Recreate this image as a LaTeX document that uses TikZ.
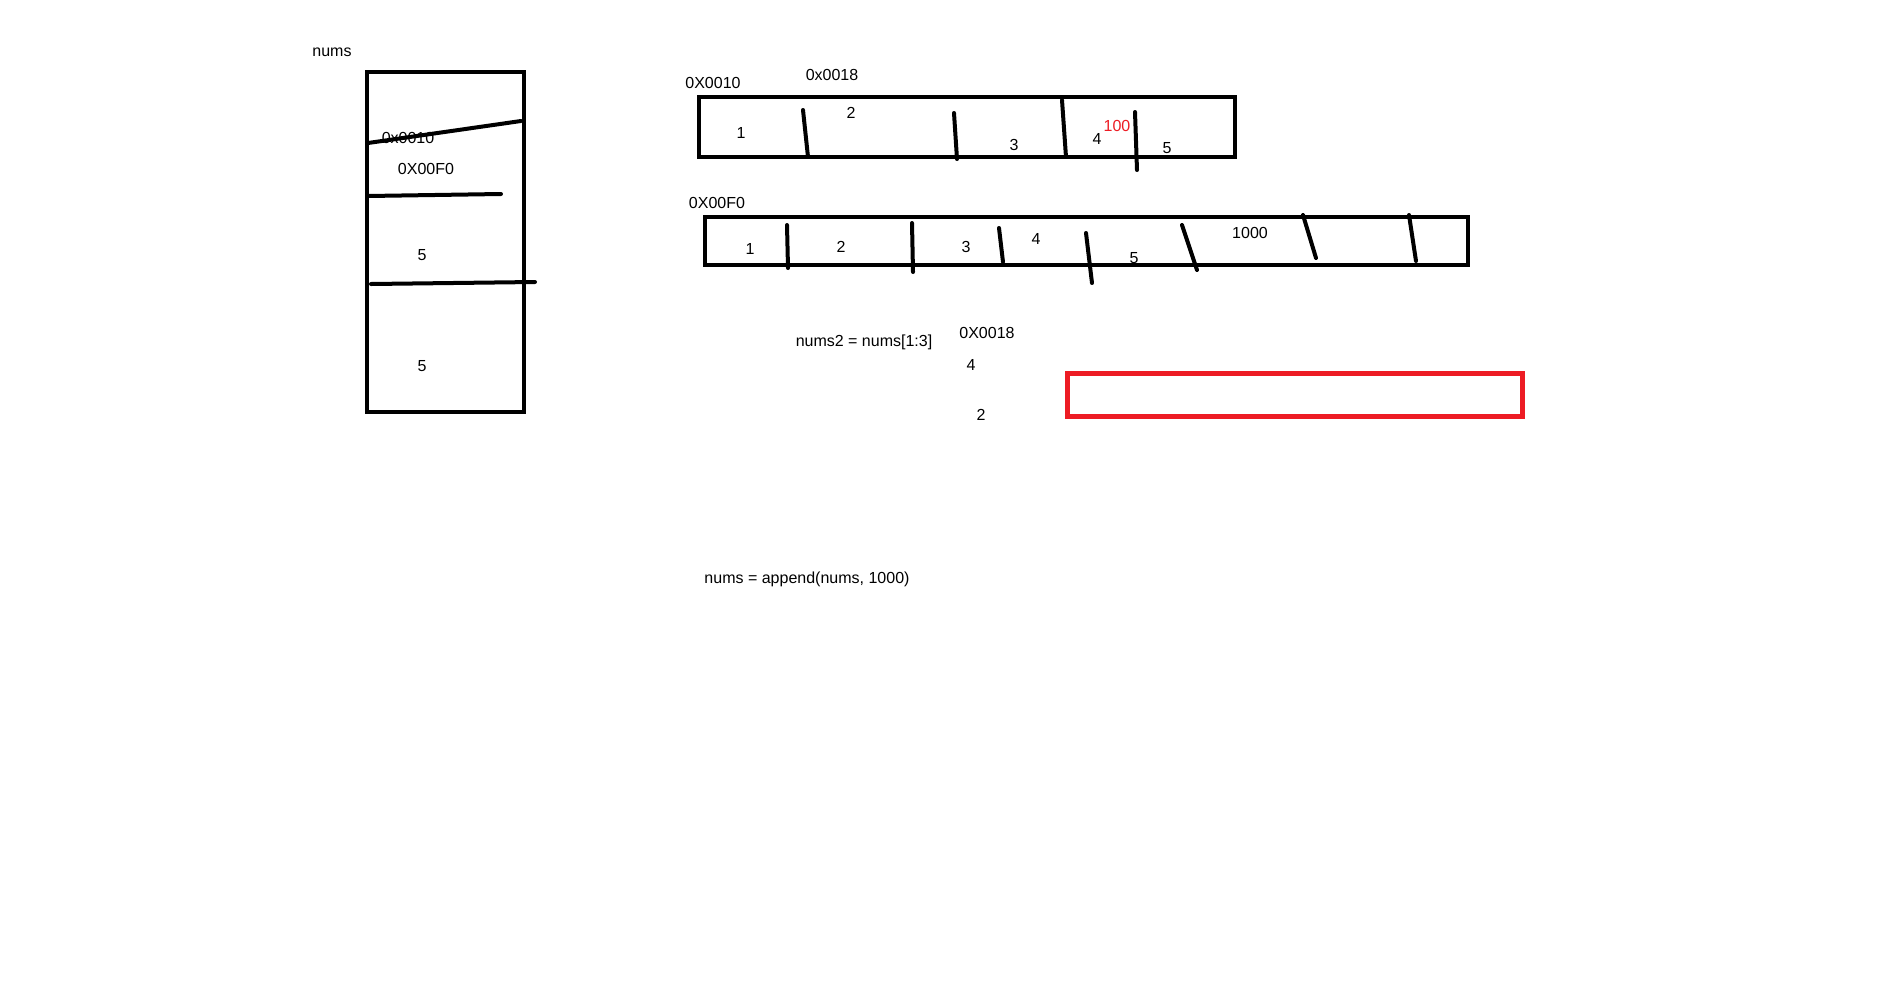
\documentclass[tikz,border=0pt]{standalone}
\usepackage{fontspec}
\setmainfont{Liberation Sans}
\definecolor{paintred}{HTML}{ED1C24}
\tikzset{
  lbl/.style={font=\fontsize{16}{19}\selectfont, inner sep=0pt},
  frame/.style={line width=4.5pt},
  bar/.style={line width=4pt, line cap=round},
}

\begin{document}
\begin{tikzpicture}[x=1pt,y=-1pt]
\useasboundingbox[fill=white] (0,0) rectangle (1896,1002);
% the slice header
\node[lbl] (numslbl) at (332,52) {nums};
\draw[frame, line width=4pt] (367,72) rectangle (524,412);
\node[lbl] (oldptr) at (408,138) {0x0010};
\draw[bar] (368,143) -- (521,121);
\node[lbl] (newptr) at (426,169) {0X00F0};
\draw[bar] (368,196) -- (501,194);
\node[lbl] (len) at (422,255) {5};
\draw[bar] (371,284) -- (535,282);
\node[lbl] (cap) at (422,366) {5};
% old backing array
\node[lbl] (oldaddr) at (713,83) {0X0010};
\node[lbl] (oldaddrb) at (832,75) {0x0018};
\draw[frame] (699,97) rectangle (1235,157);
\draw[bar] (803,110) -- (808,157);
\draw[bar] (954,113) -- (957,159);
\draw[bar] (1062,100) -- (1066,157);
\draw[bar] (1135,112) -- (1137,170);
\node[lbl] (olda) at (741,133) {1};
\node[lbl] (oldb) at (851,113) {2};
\node[lbl] (oldc) at (1014,145) {3};
\node[lbl] (oldd) at (1097,139) {4};
\node[lbl, text=paintred] (oldnew) at (1117,126) {100};
\node[lbl] (olde) at (1167,148) {5};
% new backing array
\node[lbl] (newaddr) at (717,203) {0X00F0};
\draw[frame] (705,217) rectangle (1468,265);
\draw[bar] (787,225) -- (788,268);
\draw[bar] (912,223) -- (913,272);
\draw[bar] (999,228) -- (1003,262);
\draw[bar] (1086,233) -- (1092,283);
\draw[bar] (1182,225) -- (1197,270);
\draw[bar] (1303,215) -- (1316,258);
\draw[bar] (1409,215) -- (1416,261);
\node[lbl] (newa) at (750,249) {1};
\node[lbl] (newb) at (841,247) {2};
\node[lbl] (newc) at (966,247) {3};
\node[lbl] (newd) at (1036,239) {4};
\node[lbl] (newe) at (1134,258) {5};
\node[lbl] (newf) at (1250,233) {1000};
% second slice
\node[lbl] (reslice) at (864,342) {nums2 = nums[1:3]};
\node[lbl] (subaddr) at (987,333) {0X0018};
\node[lbl] (sublen) at (971,365) {4};
\node[lbl] (subcap) at (981,415) {2};
\draw[paintred, line width=5pt] (1067,373) rectangle (1522,416);
% append call
\node[lbl] (appendcall) at (807,579) {nums = append(nums, 1000)};
\end{tikzpicture}
\end{document}
